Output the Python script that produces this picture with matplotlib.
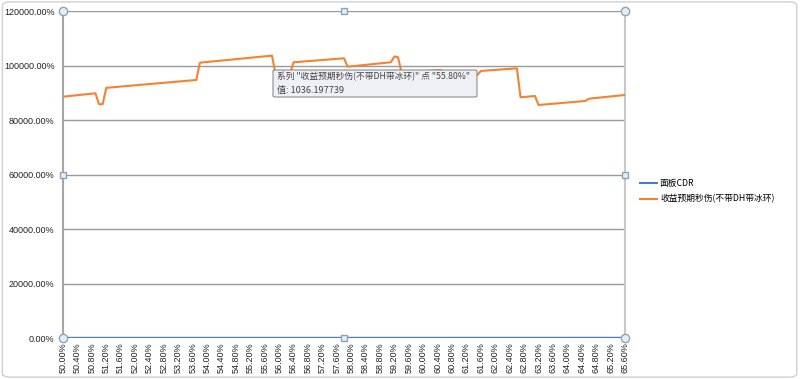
import numpy as np
import matplotlib.pyplot as plt
from matplotlib.ticker import FuncFormatter, FixedLocator
from matplotlib.patches import FancyBboxPatch

plt.rcParams['font.family'] = ['Liberation Sans', 'Noto Sans CJK SC', 'DejaVu Sans']

# CDR categories, 50.0% .. 65.6% in 0.1% steps
cdr_pct = np.round(np.arange(500, 657) / 10, 1)
panel_cdr = cdr_pct / 100  # 面板CDR series (sits on the zero line at this scale)

# 收益预期秒伤(不带DH带冰环)
dps = [
    885.6, 887.0, 888.4, 889.8, 891.1, 892.5, 893.9, 895.3, 896.6, 898.0,   # 50.0-50.9
    858.0, 857.6, 918.0, 919.2, 920.3, 921.5, 922.6, 923.8, 924.9, 926.1,   # 51.0-51.9
    927.2, 928.4, 929.6, 930.7, 931.9, 933.0, 934.2, 935.3, 936.5, 937.7,   # 52.0-52.9
    938.8, 940.0, 941.1, 942.3, 943.4, 944.6, 945.7, 946.9, 1010.4, 1011.7, # 53.0-53.9
    1013.0, 1014.2, 1015.5, 1016.8, 1018.1, 1019.4, 1020.6, 1021.9, 1023.2, 1024.5,  # 54.0-54.9
    1025.8, 1027.0, 1028.3, 1029.6, 1030.9, 1032.2, 1033.4, 1034.7, 1036.2, 970.0,   # 55.0-55.9
    966.0, 967.0, 968.0, 969.0, 1011.8, 1012.9, 1013.9, 1015.0, 1016.0, 1017.1,      # 56.0-56.9
    1018.1, 1019.2, 1020.2, 1021.3, 1022.3, 1023.4, 1024.4, 1025.5, 1026.5, 995.7,   # 57.0-57.9
    997.0, 998.4, 999.7, 1001.1, 1002.4, 1003.8, 1005.1, 1006.4, 1007.8, 1009.1,     # 58.0-58.9
    1010.5, 1011.8, 1033.5, 1030.0, 973.0, 974.0, 975.0, 976.0, 977.0, 978.0,        # 59.0-59.9
    979.0, 980.0, 981.0, 982.0, 983.0, 984.0, 956.0, 957.0, 958.0, 959.0,            # 60.0-60.9
    960.0, 960.5, 961.5, 962.7, 964.0, 965.2, 979.9, 980.9, 981.8, 982.8,            # 61.0-61.9
    983.8, 984.8, 985.8, 986.8, 987.8, 988.7, 989.7, 883.3, 884.5, 885.7,            # 62.0-62.9
    886.9, 888.1, 855.1, 856.2, 857.4, 858.5, 859.6, 860.8, 861.9, 863.0,            # 63.0-63.9
    864.1, 865.3, 866.4, 867.5, 868.7, 869.8, 878.3, 879.7, 881.0, 882.4,            # 64.0-64.9
    883.7, 885.1, 886.4, 887.8, 889.1, 890.5, 891.8,                                 # 65.0-65.6
]

tick_labels = [f"{v:.2f}%" for v in cdr_pct[::4]]
cjk = ['Noto Sans CJK SC', 'DejaVu Sans']

fig = plt.figure(figsize=(8, 3.79), dpi=100)
fig.patch.set_facecolor('white')

# outer chart frame
fig.patches.append(FancyBboxPatch((0.003, 0.005), 0.993, 0.99, boxstyle="round,pad=0,rounding_size=0.01",
                                  transform=fig.transFigure, fill=False, ec='#d0d0d0', lw=1))

ax = fig.add_axes([63 / 800, 1 - 338 / 379, 562 / 800, 327 / 379])
ax.plot(cdr_pct, panel_cdr, color='#4a7ebb', lw=1.5, label='面板CDR', zorder=3)
ax.plot(cdr_pct, dps, color='#f5822f', lw=1.5, label='收益预期秒伤(不带DH带冰环)', zorder=3)

ax.set_xlim(50.0, 65.6)
ax.set_ylim(0, 1200)
ax.set_yticks(np.arange(0, 1201, 200))
ax.yaxis.set_major_formatter(FuncFormatter(lambda v, p: f"{v * 100:.2f}%"))
ax.xaxis.set_major_locator(FixedLocator(cdr_pct[::4]))
ax.set_xticklabels(tick_labels, rotation=90)
ax.tick_params(axis='x', length=0, labelsize=6.5, pad=3, colors='#222222')
ax.tick_params(axis='y', length=0, labelsize=6.5, pad=6, colors='#222222')
ax.grid(axis='y', color='#9a9a9a', lw=1)
ax.set_axisbelow(True)
for s in ['top', 'bottom']:
    ax.spines[s].set_visible(False)
ax.spines['left'].set_color('#a6a6a6')
ax.spines['right'].set_color('#c8c8c8')
ax.spines['left'].set_linewidth(1.5)
ax.spines['right'].set_linewidth(1.5)

leg = fig.legend(loc='upper left', bbox_to_anchor=(632 / 800, 1 - 171 / 379), frameon=False,
                 prop={'family': cjk, 'size': 6.3},
                 handlelength=2.0, handletextpad=0.3, labelspacing=0.75)

# selection handles of the plot area
hx = [63, 344, 625]
hy = [11, 175, 338]
for px in hx:
    for py in hy:
        if px == 344 and py == 175:
            continue
        corner = px != 344 and py != 175
        fig.lines.append(plt.Line2D([px / 800], [1 - py / 379], transform=fig.transFigure,
                                    marker='o' if corner else 's', ms=6 if corner else 5,
                                    mfc='#e4eef5', mec='#8aa4bc', mew=1, zorder=10))

# hover tooltip
fig.patches.append(FancyBboxPatch((273 / 800, 1 - 97 / 379), 204 / 800, 27 / 379,
                                  boxstyle="round,pad=0,rounding_size=0.003", transform=fig.transFigure,
                                  fc='#eef0f5', ec='#8c8c8c', lw=0.8, zorder=9))
fig.text(277 / 800, 1 - 77 / 379, '系列 "收益预期秒伤(不带DH带冰环)" 点 "55.80%"',
         family=cjk, fontsize=6.3, color='#444444', va='center', zorder=11)
fig.text(277 / 800, 1 - 90 / 379, '值: 1036.197739',
         family=cjk, fontsize=6.6, color='#444444', va='center', zorder=11)

fig.savefig('out.png', dpi=100)
